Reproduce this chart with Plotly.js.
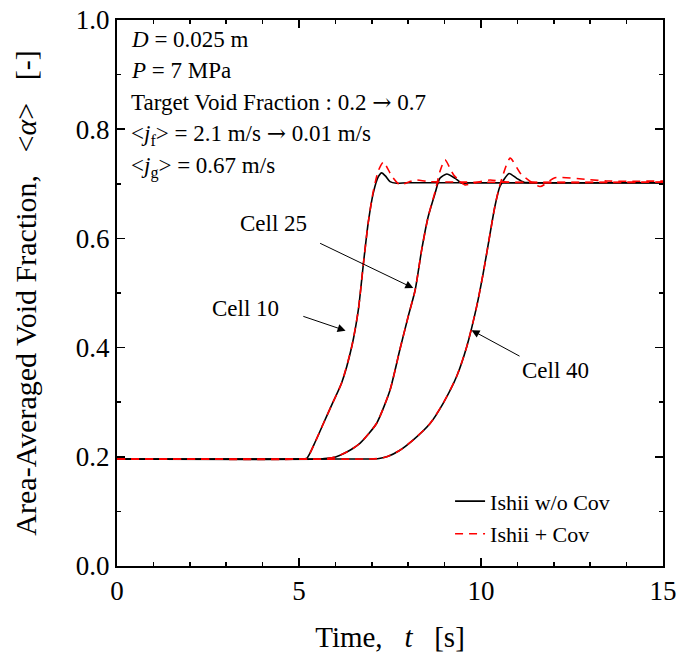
<!DOCTYPE html>
<html>
<head>
<meta charset="utf-8">
<script src="https://cdn.plot.ly/plotly-3.0.1.min.js"></script>
<style>html,body{margin:0;padding:0;background:#fff;}#chart{width:680px;height:659px;}</style>
</head>
<body>
<div id="chart"></div>
<script>
// ---- data (time in s, area-averaged void fraction) ----
const seriesNames = ["Ishii w/o Cov", "Ishii + Cov"];
const cellLabels = ["Cell 10", "Cell 25", "Cell 40"];

// Ishii w/o Cov
const t10_noCov = [0, 5.0, 5.21, 5.45, 5.67, 5.9, 6.17, 6.45, 6.63, 6.77, 6.90, 7.04, 7.18, 7.27, 7.38, 7.50, 7.68, 8.0, 15];
const a10_noCov = [0.196, 0.196, 0.197, 0.228, 0.261, 0.295, 0.335, 0.402, 0.469, 0.554, 0.628, 0.683, 0.713, 0.720, 0.714, 0.704, 0.701, 0.702, 0.702];
const t25_noCov = [0, 5.6, 5.9, 6.13, 6.4, 6.68, 7.13, 7.50, 7.77, 8.00, 8.19, 8.37, 8.55, 8.74, 8.87, 9.06, 9.29, 9.47, 9.7, 15];
const a25_noCov = [0.196, 0.196, 0.198, 0.203, 0.212, 0.225, 0.261, 0.322, 0.396, 0.457, 0.505, 0.579, 0.640, 0.683, 0.710, 0.718, 0.710, 0.701, 0.702, 0.702];
const t40_noCov = [0, 6.9, 7.2, 7.45, 7.75, 8.14, 8.60, 8.96, 9.33, 9.61, 9.88, 10.06, 10.25, 10.38, 10.52, 10.77, 10.98, 11.18, 11.5, 15];
const a40_noCov = [0.196, 0.196, 0.197, 0.201, 0.211, 0.231, 0.261, 0.298, 0.347, 0.402, 0.475, 0.536, 0.609, 0.658, 0.695, 0.719, 0.710, 0.703, 0.702, 0.702];

// Ishii + Cov
const t10_cov = [0, 5.0, 5.21, 5.45, 5.67, 5.9, 6.17, 6.45, 6.63, 6.77, 6.90, 7.04, 7.18, 7.32, 7.55, 7.77, 8.0, 8.19, 8.6, 15];
const a10_cov = [0.196, 0.196, 0.197, 0.228, 0.261, 0.295, 0.335, 0.402, 0.469, 0.554, 0.628, 0.686, 0.724, 0.740, 0.714, 0.698, 0.703, 0.707, 0.704, 0.703];
const t25_cov = [0, 5.6, 5.9, 6.13, 6.4, 6.68, 7.13, 7.50, 7.77, 8.00, 8.19, 8.37, 8.55, 8.74, 8.87, 9.01, 9.25, 9.56, 9.79, 10.25, 10.7, 15];
const a25_cov = [0.196, 0.196, 0.198, 0.203, 0.212, 0.225, 0.261, 0.322, 0.396, 0.457, 0.505, 0.579, 0.640, 0.686, 0.722, 0.744, 0.716, 0.698, 0.701, 0.707, 0.703, 0.703];
const t40_cov = [0, 6.9, 7.2, 7.45, 7.75, 8.14, 8.60, 8.96, 9.33, 9.61, 9.88, 10.06, 10.25, 10.38, 10.52, 10.8, 11.1, 11.62, 12.03, 12.9, 13.5, 15];
const a40_cov = [0.196, 0.196, 0.197, 0.201, 0.211, 0.231, 0.261, 0.298, 0.347, 0.402, 0.475, 0.536, 0.609, 0.658, 0.698, 0.747, 0.718, 0.695, 0.711, 0.708, 0.705, 0.705];

const xTicks = [0, 5, 10, 15];
const yTicks = [0.0, 0.2, 0.4, 0.6, 0.8, 1.0];

const FONT = "'Liberation Serif', 'Times New Roman', serif";
const ARROW = "<span style=\"font-family:'DejaVu Serif'\">→</span>";

const noCovSets = [[t10_noCov, a10_noCov], [t25_noCov, a25_noCov], [t40_noCov, a40_noCov]];
const covSets = [[t10_cov, a10_cov], [t25_cov, a25_cov], [t40_cov, a40_cov]];

const traces = [];
noCovSets.forEach((d, i) => {
  traces.push({
    x: d[0], y: d[1], type: 'scatter', mode: 'lines',
    name: seriesNames[0], legendgroup: 'g0', showlegend: i === 0,
    line: {color: '#000000', width: 1.6, shape: 'spline', smoothing: 0.6}
  });
});
covSets.forEach((d, i) => {
  traces.push({
    x: d[0], y: d[1], type: 'scatter', mode: 'lines',
    name: seriesNames[1], legendgroup: 'g1', showlegend: i === 0,
    line: {color: '#ff0000', width: 1.6, dash: '8px,6px', shape: 'spline', smoothing: 0.6}
  });
});

const infoLines = [
  "<i>D</i> = 0.025 m",
  "<i>P</i> = 7 MPa",
  "Target Void Fraction : 0.2 " + ARROW + " 0.7",
  "&lt;<i>j</i><sub>f</sub>&gt; = 2.1 m/s " + ARROW + " 0.01 m/s",
  "&lt;<i>j</i><sub>g</sub>&gt; = 0.67 m/s"
];
const infoY = [0.965, 0.908, 0.850, 0.790, 0.730];

const annotations = infoLines.map((txt, i) => ({
  xref: 'paper', yref: 'paper', x: 0.022, y: infoY[i],
  xanchor: 'left', yanchor: 'middle', showarrow: false,
  text: txt, font: {family: FONT, size: 23, color: '#000'}
}));

// cell labels with arrows: arrow head in data coords, label anchored at the arrow tail (pixel offset)
const arrowHeads = [[6.28, 0.431], [8.14, 0.509], [9.74, 0.432]];
const arrowTails = [[-65, -22], [-104, -50], [48, 26]];
const labelAnchors = [['right', 'middle'], ['right', 'bottom'], ['left', 'top']];
const startGaps = [24, 12, 0];
arrowHeads.forEach((h, i) => {
  annotations.push({
    x: h[0], y: h[1], xref: 'x', yref: 'y', ax: arrowTails[i][0], ay: arrowTails[i][1],
    axref: 'pixel', ayref: 'pixel', showarrow: true,
    xanchor: labelAnchors[i][0], yanchor: labelAnchors[i][1],
    startstandoff: startGaps[i],
    arrowhead: 2, arrowsize: 1.6, arrowwidth: 1, arrowcolor: '#000',
    text: cellLabels[i], font: {family: FONT, size: 23, color: '#000'}
  });
});

const layout = {
  width: 680, height: 659,
  margin: {l: 117, r: 17, t: 20, b: 93},
  paper_bgcolor: '#fff', plot_bgcolor: '#fff',
  font: {family: FONT, color: '#000'},
  showlegend: true,
  legend: {
    x: 0.61, y: 0.157, xanchor: 'left', yanchor: 'top',
    bgcolor: 'rgba(0,0,0,0)', borderwidth: 0,
    font: {family: FONT, size: 22, color: '#000'},
    tracegroupgap: 1
  },
  xaxis: {
    range: [0, 15], tickvals: xTicks, ticktext: xTicks.map(String),
    ticks: 'inside', ticklen: 8, tickwidth: 1.5, tickcolor: '#000',
    minor: {ticks: 'inside', ticklen: 4, tickwidth: 1.5, dtick: 1, tickcolor: '#000'},
    showline: true, linewidth: 2, linecolor: '#000', mirror: 'allticks',
    showgrid: false, zeroline: false,
    tickfont: {family: FONT, size: 27, color: '#000'},
    title: {text: "Time,&nbsp;&nbsp;&nbsp;<i>t</i>&nbsp;&nbsp;&nbsp;[s]", font: {family: FONT, size: 29, color: '#000'}, standoff: 21}
  },
  yaxis: {
    range: [0, 1], tickvals: yTicks, ticktext: yTicks.map(v => v.toFixed(1)),
    ticks: 'inside', ticklen: 8, tickwidth: 1.5, tickcolor: '#000',
    minor: {ticks: 'inside', ticklen: 4, tickwidth: 1.5, dtick: 0.1, tickcolor: '#000'},
    showline: true, linewidth: 2, linecolor: '#000', mirror: 'allticks',
    showgrid: false, zeroline: false,
    tickfont: {family: FONT, size: 27, color: '#000'},
    title: {text: "Area-Averaged Void Fraction,&nbsp;&nbsp;&nbsp;&lt;<i>α</i>&gt;&nbsp;&nbsp;&nbsp;[-]", font: {family: FONT, size: 30, color: '#000'}, standoff: 30}
  },
  annotations: annotations
};

Plotly.newPlot('chart', traces, layout, {displayModeBar: false, staticPlot: true});
</script>
</body>
</html>
